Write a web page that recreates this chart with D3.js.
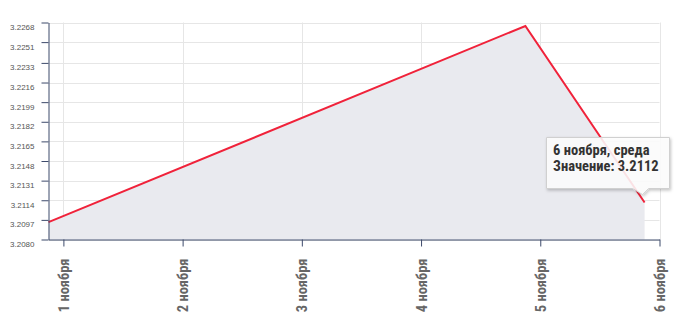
<!DOCTYPE html>
<html>
<head>
<meta charset="utf-8">
<script src="https://cdn.jsdelivr.net/npm/d3@7"></script>
<style>
  body { margin: 0; background: #fff; }
  svg { display: block; }
</style>
</head>
<body>
<div id="chart"></div>
<script>
// rate by day (Moscow dates), plotted 3h earlier in UTC like the source
const dates = ['2019-11-01', '2019-11-05', '2019-11-06']
const values = [3.2095, 3.2265, 3.2112]
const yTicks = [3.2080, 3.2097, 3.2114, 3.2131, 3.2148, 3.2165, 3.2182, 3.2199, 3.2216, 3.2233, 3.2251, 3.2268]
const xTicks = ['2019-11-01', '2019-11-02', '2019-11-03', '2019-11-04', '2019-11-05', '2019-11-06']
const xTickLabels = ['1 ноября', '2 ноября', '3 ноября', '4 ноября', '5 ноября', '6 ноября']
const months = ['января', 'февраля', 'марта', 'апреля', 'мая', 'июня', 'июля', 'августа', 'сентября', 'октября', 'ноября', 'декабря']
const weekdays = ['воскресенье', 'понедельник', 'вторник', 'среда', 'четверг', 'пятница', 'суббота']

const w = 682
const h = 330
const mLeft = 48.5
const mRight = 659.5
const mTop = 22.5
const mBottom = 239.5
const shift = 3 * 3600 * 1000
const condensed = '"Roboto Condensed", "DejaVu Sans Condensed", "Liberation Sans Narrow", Roboto, sans-serif'

const parse = d3.utcParse('%Y-%m-%d')
let data = dates.map(function (d, i) {
  return { date: parse(d), value: values[i] }
})

let x = d3.scaleUtc()
  .domain([new Date(parse(dates[0]) - shift), parse('2019-11-06')])
  .range([mLeft, mRight])
let y = d3.scaleLinear()
  .domain([yTicks[0], yTicks[yTicks.length - 1]])
  .range([mBottom, mTop])

let xPos = function (d) { return x(new Date(d.date - shift)) }

let svg = d3.select('#chart').append('svg')
  .attr('width', w)
  .attr('height', h)

let defs = svg.append('defs')
let shadow = defs.append('filter').attr('id', 'shadow')
  .attr('x', '-20%').attr('y', '-20%').attr('width', '150%').attr('height', '160%')
shadow.append('feDropShadow')
  .attr('dx', 1).attr('dy', 1.5).attr('stdDeviation', 1.5)
  .attr('flood-color', '#000').attr('flood-opacity', 0.25)

// grid
svg.append('g')
  .selectAll('line')
  .data(yTicks)
  .enter().append('line')
  .attr('x1', mLeft).attr('x2', mRight)
  .attr('y1', function (d) { return Math.round(y(d)) + 0.5 })
  .attr('y2', function (d) { return Math.round(y(d)) + 0.5 })
  .attr('stroke', '#e6e6e6')

svg.append('g')
  .selectAll('line')
  .data(xTicks)
  .enter().append('line')
  .attr('x1', function (d) { return Math.round(x(parse(d))) + 0.5 })
  .attr('x2', function (d) { return Math.round(x(parse(d))) + 0.5 })
  .attr('y1', mTop).attr('y2', mBottom)
  .attr('stroke', '#e6e6e6')

// area + line
let area = d3.area()
  .x(xPos)
  .y0(mBottom)
  .y1(function (d) { return y(d.value) })
svg.append('path')
  .datum(data)
  .attr('d', area)
  .attr('fill', '#e9eaef')

let line = d3.line()
  .x(xPos)
  .y(function (d) { return y(d.value) })
svg.append('path')
  .datum(data)
  .attr('d', line)
  .attr('fill', 'none')
  .attr('stroke', '#f0223a')
  .attr('stroke-width', 2)

// axes
let yAxis = d3.axisLeft(y)
  .tickValues(yTicks)
  .tickSize(7)
  .tickSizeOuter(0)
  .tickFormat(d3.format('.4f'))
let gy = svg.append('g')
  .attr('transform', 'translate(' + mLeft + ',0)')
  .call(yAxis)
gy.select('.domain').attr('stroke', '#3d4a6b')
gy.selectAll('.tick line').attr('stroke', '#3d4a6b')
gy.selectAll('.tick text')
  .attr('x', -14)
  .attr('y', 4.5)
  .attr('fill', '#555')
  .style('font-family', 'Arial, "Liberation Sans", sans-serif')
  .style('font-size', '8px')

let xAxis = d3.axisBottom(x)
  .tickValues(xTicks.map(parse))
  .tickSize(7)
  .tickSizeOuter(0)
  .tickFormat(function (d, i) { return xTickLabels[i] })
let gx = svg.append('g')
  .attr('transform', 'translate(0,' + mBottom + ')')
  .call(xAxis)
gx.select('.domain').attr('stroke', '#3d4a6b')
gx.selectAll('.tick line').attr('stroke', '#3d4a6b')
gx.selectAll('.tick text')
  .attr('transform', 'rotate(-90)')
  .attr('x', -19)
  .attr('y', 0)
  .attr('dy', '0.35em')
  .attr('fill', '#666')
  .style('text-anchor', 'end')
  .style('font-family', condensed)
  .style('font-weight', 'bold')
  .style('font-size', '14.5px')

// tooltip on last point
let last = data[data.length - 1]
let px = xPos(last)
let py = y(last.value)
let bx0 = Math.round(px - 99) + 0.5
let bx1 = Math.round(px + 24) + 0.5
let by0 = Math.round(py - 66) + 0.5
let by1 = Math.round(py - 15) + 0.5
let tip = svg.append('g')
tip.append('path')
  .attr('d', 'M' + bx0 + ',' + by0 + 'H' + bx1 + 'V' + by1 +
    'H' + (px + 4) + 'L' + (px - 2) + ',' + (py - 8) + 'L' + (px - 12) + ',' + by1 +
    'H' + bx0 + 'Z')
  .attr('fill', 'rgba(255,255,255,0.85)')
  .attr('stroke', '#d0d0d0')
  .attr('filter', 'url(#shadow)')

let tipLines = [
  last.date.getUTCDate() + ' ' + months[last.date.getUTCMonth()] + ', ' + weekdays[last.date.getUTCDay()],
  'Значение: ' + d3.format('.4f')(last.value)
]
tip.selectAll('text')
  .data(tipLines)
  .enter().append('text')
  .attr('x', px - 91.5)
  .attr('y', function (d, i) { return py - 47.5 + i * 15.8 })
  .attr('fill', '#333')
  .style('font-family', condensed)
  .style('font-weight', 'bold')
  .style('font-size', '14.5px')
  .text(function (d) { return d })
</script>
</body>
</html>
